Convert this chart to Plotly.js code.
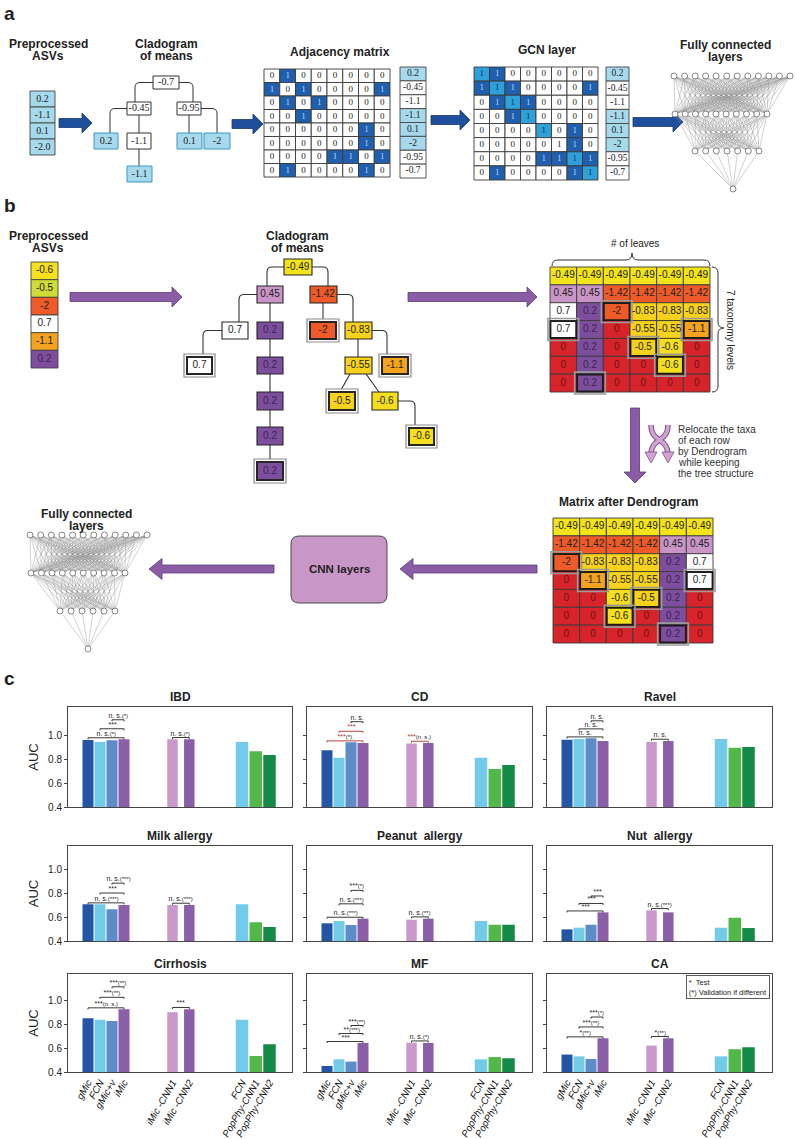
<!DOCTYPE html>
<html><head><meta charset="utf-8">
<script src="https://cdn.plot.ly/plotly-3.0.1.min.js"></script>
<style>html,body{margin:0;padding:0;background:#fff}#chart{width:800px;height:1139px}</style>
</head><body><div id="chart"></div>
<script>
const W=800,H=1139;

// ================= DATA =================
// ---- panel c : AUC per model ----
const models=['gMic','FCN','gMic+v','iMic','iMic -CNN1','iMic -CNN2','FCN','PopPhy-CNN1','PopPhy-CNN2'];
const diseases=['IBD','CD','Ravel','Milk allergy','Peanut  allergy','Nut  allergy','Cirrhosis','MF','CA'];
const aucIBD=[0.958,0.942,0.956,0.965,0.964,0.964,0.942,0.864,0.833];
const aucCD=[0.872,0.811,0.939,0.933,0.930,0.933,0.811,0.717,0.750];
const aucRavel=[0.961,0.967,0.972,0.950,0.942,0.950,0.967,0.894,0.900];
const aucMilk=[0.709,0.709,0.667,0.703,0.703,0.703,0.709,0.557,0.518];
const aucPeanut=[0.549,0.568,0.535,0.588,0.579,0.588,0.568,0.537,0.537];
const aucNut=[0.498,0.512,0.537,0.641,0.658,0.641,0.512,0.596,0.509];
const aucCirrhosis=[0.849,0.838,0.827,0.925,0.900,0.925,0.838,0.534,0.632];
const aucMF=[0.450,0.506,0.487,0.643,0.645,0.643,0.506,0.525,0.515];
const aucCA=[0.546,0.531,0.509,0.682,0.621,0.682,0.531,0.590,0.607];
// significance: [gMic vs iMic, FCN vs iMic, gMic+v vs iMic, iMic-CNN1 vs iMic-CNN2]
const sigIBD=['n. s.(*)','***','n. s.(*)','n. s.(*)'];
const sigCD=['***(*)','***','n. s.','***(n. s.)'];
const sigRavel=['n. s.','n. s.','n. s.','n. s.'];
const sigMilk=['n. s.(***)','***','n. s.(***)','n. s.(***)'];
const sigPeanut=['n. s.(***)','n. s.(***)','***(*)','n. s.(**)'];
const sigNut=['***','***','***','n. s.(***)'];
const sigCirrhosis=['***(n. s.)','***(**)','***(**)','***'];
const sigMF=['***','**(***)','***(**)','n. s.(*)'];
const sigCA=['*(**)','***(**)','***(*)','*(**)'];
const yTicks=[0.4,0.6,0.8,1.0];

// ---- panel a ----
const asvA=['0.2','-1.1','0.1','-2.0'];
const cladoA=['-0.7','-0.45','-0.95','0.2','-1.1','0.1','-2','-1.1'];
const cladoAIsASV=[0,0,0,1,0,1,1,1];
const adjA=[[0,1,0,0,0,0,0,0],[1,0,1,0,0,0,0,1],[0,1,0,1,0,0,0,0],[0,0,1,0,0,0,0,0],
            [0,0,0,0,0,0,1,0],[0,0,0,0,0,0,1,0],[0,0,0,0,1,1,0,1],[0,1,0,0,0,0,1,0]];
// 0 = 0, 1 = edge, 2 = self loop (highlighted), 3 = self loop (not highlighted)
const gcnA=[[2,1,0,0,0,0,0,0],[1,2,1,0,0,0,0,1],[0,1,2,1,0,0,0,0],[0,0,1,2,0,0,0,0],
            [0,0,0,0,2,0,1,0],[0,0,0,0,0,3,1,0],[0,0,0,0,1,1,2,1],[0,1,0,0,0,0,1,2]];
const nodeVecA=['0.2','-0.45','-1.1','-1.1','0.1','-2','-0.95','-0.7'];
const nodeVecAIsASV=[1,0,0,1,1,1,0,0];

// ---- panel b ----
const asvB=['-0.6','-0.5','-2','0.7','-1.1','0.2'];
const cladoB=['-0.49','0.45','-1.42','0.7','0.2','-2','-0.83','0.7','0.2','-0.55','-1.1','0.2','-0.5','-0.6','0.2','-0.6','0.2'];
const cladoBIsLeaf=[0,0,0,0,0,1,0,1,0,0,1,0,1,0,0,1,1];
const matB1=[['-0.49','-0.49','-0.49','-0.49','-0.49','-0.49'],
             ['0.45','0.45','-1.42','-1.42','-1.42','-1.42'],
             ['0.7','0.2','-2','-0.83','-0.83','-0.83'],
             ['0.7','0.2','0','-0.55','-0.55','-1.1'],
             ['0','0.2','0','-0.5','-0.6','0'],
             ['0','0.2','0','0','-0.6','0'],
             ['0','0.2','0','0','0','0']];
const matB1Leaves=[[2,2],[3,0],[3,5],[4,3],[5,4],[6,1]];
const matB2=[['-0.49','-0.49','-0.49','-0.49','-0.49','-0.49'],
             ['-1.42','-1.42','-1.42','-1.42','0.45','0.45'],
             ['-2','-0.83','-0.83','-0.83','0.2','0.7'],
             ['0','-1.1','-0.55','-0.55','0.2','0.7'],
             ['0','0','-0.6','-0.5','0.2','0'],
             ['0','0','-0.6','0','0.2','0'],
             ['0','0','0','0','0.2','0']];
const matB2Leaves=[[2,0],[3,1],[3,5],[4,3],[5,2],[6,4]];

// ================= STYLES =================
const modelColors=['#2455a4','#72cbe8','#5d8cc9','#8a5fa8','#c999c9','#8a5fa8','#72cbe8','#52b848','#138a45'];
const valueFill={'-0.49':'#f3e31b','0.45':'#c995c6','-1.42':'#ee5b29','0.7':'#ffffff','0.2':'#7d4e9d','-2':'#ee5b29',
  '-0.83':'#f6d21d','-0.55':'#f6d21d','-1.1':'#f5a31f','-0.5':'#f6d21d','-0.6':'#f5de1c','0':'#d7232a'};
const asvBFill=['#f5e21c','#cfdc35','#ef5a28','#ffffff','#f5a31f','#7d4e9d'];
function textColB(v){return v==='0'?'#6b1414':(v==='0.2'?'#3a2550':'#222');}
const SANS='Liberation Sans, Arial, sans-serif', SERIF='Liberation Serif, Times New Roman, serif';

const traces=[], shapes=[], ann=[];
const CX='x10', CY='y10';
function rect(x0,x1,y0,y1,fill,lc,lw){shapes.push({type:'rect',xref:CX,yref:CY,x0,x1,y0,y1,fillcolor:fill,line:{color:lc,width:lw},layer:'below'});}
function path(d,fill,lc,lw){shapes.push({type:'path',xref:CX,yref:CY,path:d,fillcolor:fill||'rgba(0,0,0,0)',line:{color:lc,width:lw},layer:'below'});}
const txtA={x:[],y:[],t:[],c:[],s:[]}, txtB={x:[],y:[],t:[],c:[],s:[]};
function tx(store,x,y,t,c,s){store.x.push(x);store.y.push(y);store.t.push(t);store.c.push(c);store.s.push(s);}
function label(x,y,t,size,bold,opt){ann.push(Object.assign({xref:CX,yref:CY,x,y,text:bold?'<b>'+t+'</b>':t,showarrow:false,
  font:{family:SANS,size,color:'#222'},xanchor:'center',yanchor:'middle'},opt||{}));}
function hArrow(xs,xe,y,bh,hh,hl,fill,lc){const d=Math.sign(xe-xs),xb=xe-d*hl;
  path(`M${xs},${y-bh} L${xb},${y-bh} L${xb},${y-hh} L${xe},${y} L${xb},${y+hh} L${xb},${y+bh} L${xs},${y+bh} Z`,fill,lc,0.8);}
function vArrow(x,ys,ye,bh,hh,hl,fill,lc){const d=Math.sign(ye-ys),yb=ye-d*hl;
  path(`M${x-bh},${ys} L${x-bh},${yb} L${x-hh},${yb} L${x},${ye} L${x+hh},${yb} L${x+bh},${yb} L${x+bh},${ys} Z`,fill,lc,0.8);}
function addNet(layers){
  const lx=[],ly=[],nx=[],ny=[];
  const pos=layers.map(([n,x0,x1,y])=>{const a=[];for(let i=0;i<n;i++)a.push([n===1?x0:x0+(x1-x0)*i/(n-1),y]);return a;});
  for(let k=0;k<pos.length-1;k++)for(const p of pos[k])for(const q of pos[k+1]){lx.push(p[0],q[0],null);ly.push(p[1],q[1],null);}
  pos.flat().forEach(p=>{nx.push(p[0]);ny.push(p[1]);});
  traces.push({type:'scatter',mode:'lines',x:lx,y:ly,xaxis:CX,yaxis:CY,line:{color:'#8c8c8c',width:0.4},hoverinfo:'skip',showlegend:false});
  traces.push({type:'scatter',mode:'markers',x:nx,y:ny,xaxis:CX,yaxis:CY,marker:{size:6,color:'#fff',line:{color:'#555',width:0.7}},hoverinfo:'skip',showlegend:false});
}
function column(vals,box,fillFn,store,colFn,size){
  const [x0,x1,y0,y1]=box,h=(y1-y0)/vals.length;
  vals.forEach((v,i)=>{rect(x0,x1,y0+i*h,y0+(i+1)*h,fillFn(v,i),'#444',0.9);tx(store,(x0+x1)/2,y0+(i+0.5)*h,v,colFn(v,i),size);});
}
function matrix(vals,box,styleFn,store,size){
  const [x0,x1,y0,y1]=box,R=vals.length,Cn=vals[0].length,cw=(x1-x0)/Cn,ch=(y1-y0)/R;
  vals.forEach((row,r)=>row.forEach((v,c)=>{const s=styleFn(v,r,c);
    rect(x0+c*cw,x0+(c+1)*cw,y0+r*ch,y0+(r+1)*ch,s.fill,'#3a3a3a',0.9);
    tx(store,x0+(c+0.5)*cw,y0+(r+0.5)*ch,s.text,s.color,size);}));
  return {cw,ch};
}
function leafCells(list,box,R,Cn){const [x0,x1,y0,y1]=box,cw=(x1-x0)/Cn,ch=(y1-y0)/R;
  list.forEach(([r,c])=>{const a=x0+c*cw,b=y0+r*ch;
    rect(a-2,a+cw+2,b-2,b+ch+2,'rgba(0,0,0,0)','#9a9a9a',1.6);
    rect(a+0.5,a+cw-0.5,b+0.5,b+ch-0.5,'rgba(0,0,0,0)','#1a1a1a',1.8);});}

// ================= PANEL A =================
const DB='#1f4e9c', DBL='#163a75', LB='#a6d9ec', MB='#1f5fad', DIAG='#2fa0d8';
label(2,1,'a',19,true,{xanchor:'left',yanchor:'top'});
label(48,44,'Preprocessed',12,true);label(48,56,'ASVs',12,true);
label(166,44,'Cladogram',12,true);label(166,56,'of means',12,true);
label(340,52,'Adjacency matrix',12,true);
label(547,50,'GCN layer',12,true);
label(725,45,'Fully connected',12,true);label(725,57,'layers',12,true);
column(asvA,[30,55,91,155],()=>LB,txtA,()=>'#222',10);
hArrow(59,92,123,4.5,10,10,DB,DBL);
hArrow(232,263,124,4.5,10,10,DB,DBL);
hArrow(431,470,120,4.5,10,10,DB,DBL);
hArrow(633,683,122,4.5,10,10,DB,DBL);
// cladogram a
const edgeA=['M153,82.5 H140 Q135,82.5 135,87.5 V102','M179,82.5 H188 Q193,82.5 193,87.5 V102',
  'M127,108.5 H115 Q110,108.5 110,113.5 V133','M139,115 V133','M139,149 V166','M189,115 V133',
  'M201,108.5 H212 Q217,108.5 217,113.5 V133'];
edgeA.forEach(d=>path(d,null,'#333',1));
const nodeBoxA=[[153,179,76,89],[127,151,102,115],[177,201,102,115],[94,118,133,149],[127,151,133,149],[177,202,133,149],[204,230,133,149],[127,152,166,182]];
cladoA.forEach((v,i)=>{const [x0,x1,y0,y1]=nodeBoxA[i];rect(x0,x1,y0,y1,cladoAIsASV[i]?LB:'#fff',cladoAIsASV[i]?'#3d97c2':'#333',1);
  tx(txtA,(x0+x1)/2,(y0+y1)/2,v,'#222',10);});
matrix(adjA,[264,390,69,177],v=>({fill:v?MB:'#fff',text:String(v),color:v?'#b9d3ee':'#222'}),txtA,9);
column(nodeVecA,[400,426,67,178],(v,i)=>nodeVecAIsASV[i]?LB:'#fff',txtA,()=>'#222',9.5);
matrix(gcnA,[474,598,67,180],v=>({fill:v===1?MB:(v===2?DIAG:'#fff'),text:v?'1':'0',color:v===1?'#b9d3ee':(v===2?'#12355e':'#222')}),txtA,9);
column(nodeVecA,[606,629,67,180],(v,i)=>nodeVecAIsASV[i]?LB:'#fff',txtA,()=>'#222',9.5);
addNet([[12,674,790,76],[10,675,767,114],[7,695,759,151],[1,733,733,189]]);

// ================= PANEL B =================
const PU='#8a5ca6', PUL='#5e3b7a';
label(2,193,'b',19,true,{xanchor:'left',yanchor:'top'});
label(48,236,'Preprocessed',12,true);label(48,248,'ASVs',12,true);
label(297,236,'Cladogram',12,true);label(297,248,'of means',12,true);
label(635,243,'# of leaves',10,false);
label(731,330,'7 taxonomy levels',10,false,{textangle:90});
label(628,502,'Matrix after Dendrogram',12,true);
label(86,514,'Fully connected',12,true);label(86,526,'layers',12,true);
['Relocate the taxa','of each row','by Dendrogram','while keeping','the tree structure'].forEach((t,i)=>
  label(676,429+i*11,t,10,false,{xanchor:'left',font:{family:SANS,size:10,color:'#333'}}));
column(asvB,[31,58,262,368],(v,i)=>asvBFill[i],txtB,v=>textColB(v),10);
hArrow(70,182,297,4.5,10,10,PU,PUL);
hArrow(408,537,297,4.5,10,10,PU,PUL);
vArrow(635,408,483,4.5,11,11,PU,PUL);
hArrow(537,400,569,4,10.5,13,PU,PUL);
hArrow(274,149,569,4,10.5,13,PU,PUL);
// cladogram b
const edgeB=['M284,267 H272 Q267,267 267,272 V286','M312,267 H323 Q328,267 328,272 V286',
  'M257,294.5 H244 Q239,294.5 239,299.5 V322','M270,303 V462','M222,330.5 H208 Q203,330.5 203,335.5 V355',
  'M323,303 V320','M337,294.5 H348 Q353,294.5 353,299.5 V322','M372,330.5 H382 Q387,330.5 387,335.5 V355',
  'M358,339 V357','M350,374 L341,390','M366,374 L379,392','M398,401 H410 Q415,401 415,406 V426'];
edgeB.forEach(d=>path(d,null,'#333',1.1));
const nodeBoxB=[[284,312,259,275],[257,283,286,303],[310,337,286,303],[222,248,322,339],[257,283,322,339],[310,336,322,339],
  [345,372,322,339],[187,212,357,374],[257,283,357,374],[345,372,357,374],[382,408,357,374],[257,283,392,410],
  [329,355,392,410],[372,398,392,410],[257,283,427,445],[409,434,428,445],[257,283,462,480]];
cladoB.forEach((v,i)=>{const [x0,x1,y0,y1]=nodeBoxB[i];
  if(cladoBIsLeaf[i]) rect(x0-3,x1+3,y0-3,y1+3,'#fff','#8a8a8a',1.2);
  rect(x0,x1,y0,y1,valueFill[v],'#262626',cladoBIsLeaf[i]?2:1.1);
  tx(txtB,(x0+x1)/2,(y0+y1)/2,v,textColB(v),10);});
// matrices b
matrix(matB1,[550,710,267,392],v=>({fill:valueFill[v],text:v,color:textColB(v)}),txtB,10);
leafCells(matB1Leaves,[550,710,267,392],7,6);
matrix(matB2,[553,713,518,643],v=>({fill:valueFill[v],text:v,color:textColB(v)}),txtB,10);
leafCells(matB2Leaves,[553,713,518,643],7,6);
// braces
path('M552,266 Q552,260 558,260 L626,260 Q632,260 632,253 Q632,260 638,260 L704,260 Q710,260 710,266',null,'#333',1);
path('M712,267 Q718,267 718,273 L718,322 Q718,328 724,328 Q718,328 718,334 L718,386 Q718,392 712,392',null,'#333',1);
// relocate icon
['M651,425 C651,443 668,437 668,455','M668,425 C668,443 651,437 651,455'].forEach(d=>{path(d,null,'#7d4f8e',5.5);});
['M651,425 C651,443 668,437 668,455','M668,425 C668,443 651,437 651,455'].forEach(d=>{path(d,null,'#d2a3d0',3.5);});
path('M645,452 L657,452 L651,463 Z','#d2a3d0','#7d4f8e',0.8);
path('M662,452 L674,452 L668,463 Z','#d2a3d0','#7d4f8e',0.8);
// CNN box
path('M299,536 L379,536 Q387,536 387,544 L387,595 Q387,603 379,603 L299,603 Q291,603 291,595 L291,544 Q291,536 299,536 Z','#c996c8','#4a4a4a',1);
label(339,569,'CNN layers',11.5,true);
addNet([[12,30,147,535],[10,31,125,573],[6,60,115,611],[1,88,88,649]]);

// text traces for diagrams
traces.push({type:'scatter',mode:'text',x:txtA.x,y:txtA.y,text:txtA.t,xaxis:CX,yaxis:CY,
  textfont:{family:SERIF,size:txtA.s,color:txtA.c},hoverinfo:'skip',showlegend:false,cliponaxis:false});
traces.push({type:'scatter',mode:'text',x:txtB.x,y:txtB.y,text:txtB.t,xaxis:CX,yaxis:CY,
  textfont:{family:SANS,size:txtB.s,color:txtB.c},hoverinfo:'skip',showlegend:false,cliponaxis:false});

// ================= PANEL C =================
label(2,666,'c',19,true,{xanchor:'left',yanchor:'top'});
const aucData=[aucIBD,aucCD,aucRavel,aucMilk,aucPeanut,aucNut,aucCirrhosis,aucMF,aucCA];
const sigData=[sigIBD,sigCD,sigRavel,sigMilk,sigPeanut,sigNut,sigCirrhosis,sigMF,sigCA];
const colL=[68,307,547], colR=[292,532,772], rowT=[707,846,974], rowB=[807,941,1072], pxPerUnit=[120,118.8,119.5];
const groups=[{start:20,step:12,w:11,n:4},{start:104.5,step:16.8,w:10.5,n:2},{start:174,step:13.75,w:12.5,n:3}];
const bracketStep=[0.075,0.08,0.067,0.083,0.113,0.063,0.088,0.067,0.083];
const red='#a8322b';
const bracketColor=[null,[red,red,'#222',red],null,null,null,null,null,null,null];
const xPos=[],bw=[];groups.forEach(g=>{for(let i=0;i<g.n;i++){xPos.push(g.start+i*g.step);bw.push(g.w);}});
const pairs=[[0,3],[1,3],[2,3],[4,5]];
const layout={width:W,height:H,margin:{l:0,r:0,t:0,b:0},paper_bgcolor:'#fff',plot_bgcolor:'rgba(0,0,0,0)',
  showlegend:false,font:{family:SANS,color:'#222'},dragmode:false,hovermode:false,
  xaxis10:{domain:[0,1],range:[0,W],visible:false,fixedrange:true,anchor:'y10'},
  yaxis10:{domain:[0,1],range:[H,0],visible:false,fixedrange:true,anchor:'x10'}};
function fmtSig(s,c){return s.replace(/\((.*)\)/,"<span style='font-size:6px;color:"+c+"'>($1)</span>");}
aucData.forEach((vals,d)=>{
  const row=Math.floor(d/3),col=d%3,k=d+1,xa='x'+k,ya='y'+k;
  const wpx=colR[col]-colL[col], top=0.4+(rowB[row]-rowT[row])/pxPerUnit[row];
  traces.push({type:'bar',x:xPos,y:vals,width:bw,xaxis:xa,yaxis:ya,marker:{color:modelColors,line:{width:0}},hoverinfo:'skip',showlegend:false});
  const m1=Math.max(...vals.slice(0,4)), m2=Math.max(...vals.slice(4,6));
  pairs.forEach(([a,b],j)=>{
    const y=j<3?m1+0.012+j*bracketStep[d]:m2+0.015;
    const c=bracketColor[d]?bracketColor[d][j]:'#222';
    traces.push({type:'scatter',mode:'lines',x:[xPos[a],xPos[a],xPos[b],xPos[b]],y:[y-0.013,y,y,y-0.013],xaxis:xa,yaxis:ya,
      line:{color:c,width:0.9},hoverinfo:'skip',showlegend:false,cliponaxis:false});
    ann.push({xref:xa,yref:ya,x:(xPos[a]+xPos[b])/2,y:y,text:fmtSig(sigData[d][j],'#222'),showarrow:false,yanchor:'bottom',xanchor:'center',
      font:{family:SANS,size:7,color:c},borderpad:0.5});
  });
  layout['xaxis'+k]={domain:[colL[col]/W,colR[col]/W],range:[0,wpx],anchor:ya,showline:true,mirror:true,linecolor:'#444',linewidth:1,
    showgrid:false,zeroline:false,ticks:'',tickvals:xPos,ticktext:models.map(m=>'<i>'+m+'</i>'),showticklabels:row===2,
    tickangle:-60,tickfont:{family:SANS,size:9.8,color:'#111'},fixedrange:true,ticklabelstandoff:0};
  layout['yaxis'+k]={domain:[1-rowB[row]/H,1-rowT[row]/H],range:[0.4,top],anchor:xa,showline:true,mirror:true,linecolor:'#444',linewidth:1,
    showgrid:false,zeroline:false,ticks:'outside',ticklen:3,tickcolor:'#444',tickvals:yTicks,ticktext:yTicks.map(v=>v.toFixed(1)),
    showticklabels:col===0,tickfont:{family:SANS,size:10,color:'#222'},fixedrange:true,
    title:col===0?{text:'AUC',font:{family:SANS,size:13,color:'#222'},standoff:6}:{text:''}};
  label((colL[col]+colR[col])/2,rowT[row]-1,diseases[d],12,true,{yanchor:'bottom'});
});
// legend box in CA panel
ann.push({xref:'x9',yref:'y9',x:223,y:1.213,xanchor:'right',yanchor:'top',showarrow:false,align:'left',
  text:"*  Test<br>(*) Validation if different",font:{family:SANS,size:7.5,color:'#222'},
  bordercolor:'#333',borderwidth:0.8,borderpad:2,bgcolor:'#fff'});
layout.shapes=shapes;layout.annotations=ann;
Plotly.newPlot('chart',traces,layout,{staticPlot:true,displayModeBar:false});
</script></body></html>
